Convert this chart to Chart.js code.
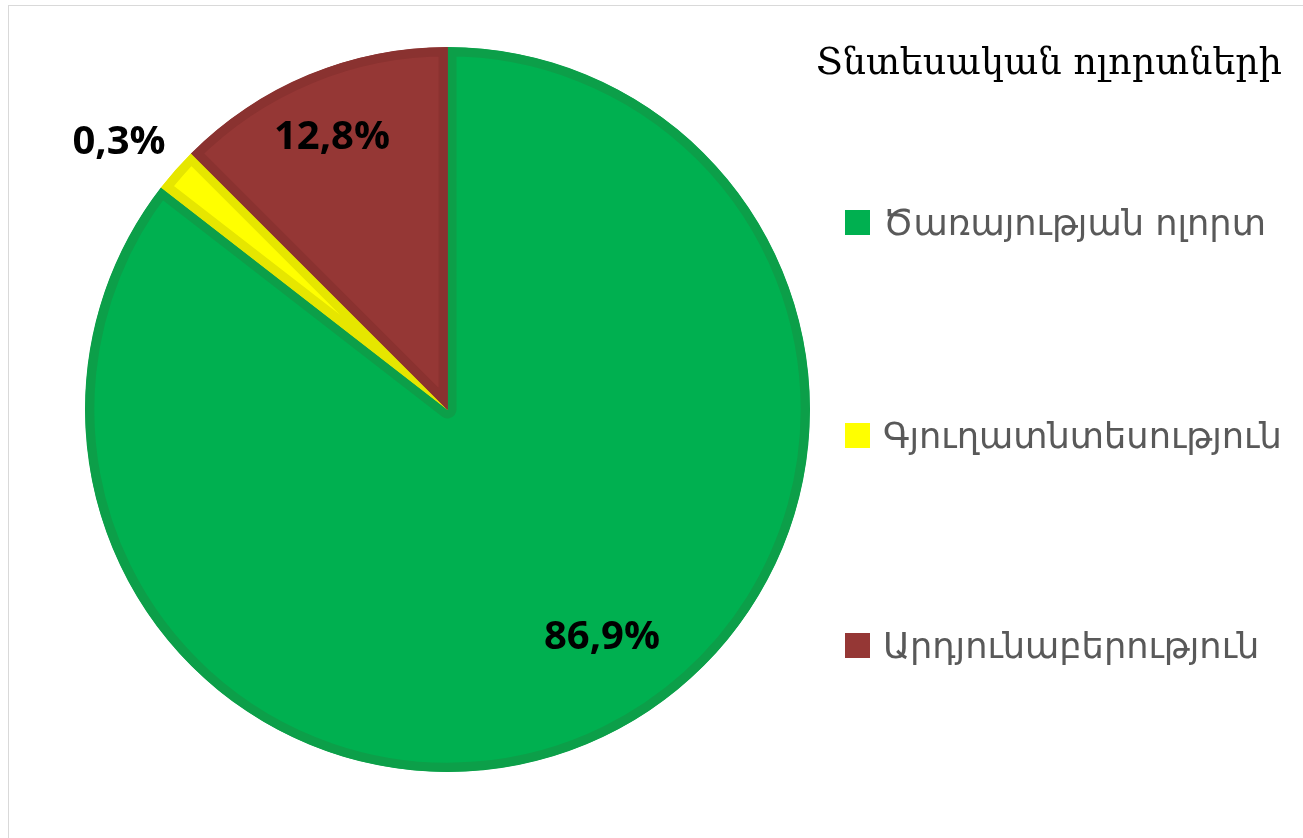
<!DOCTYPE html>
<html lang="hy">
<head>
    <meta charset="UTF-8">
    <title>Տնտեսական ոլորտների</title>
    <script src="https://cdn.jsdelivr.net/npm/chart.js@4.4.1/dist/chart.umd.min.js"></script>
    <style>
        body {
            margin: 0;
            background: #ffffff;
            width: 1303px;
            height: 838px;
            overflow: hidden;
            position: relative;
        }
        .frame {
            position: absolute;
            left: 8px;
            top: 5px;
            width: 1300px;
            height: 840px;
            border: 1px solid #d9d9d9;
        }
        #wrap {
            position: absolute;
            left: 0;
            top: 0;
            width: 1303px;
            height: 838px;
        }
        .title {
            position: absolute;
            left: 816px;
            top: 40px;
            font-family: 'DejaVu Serif', serif;
            font-size: 36.5px;
            color: #000;
            white-space: nowrap;
        }
        .legend-item {
            position: absolute;
            left: 845px;
            font-family: 'DejaVu Sans', sans-serif;
            font-size: 35.2px;
            color: #595959;
            white-space: nowrap;
            display: flex;
            align-items: center;
        }
        .legend-item span.box {
            display: inline-block;
            width: 25px;
            height: 25px;
            margin-right: 13px;
        }
    </style>
</head>
<body>
    <div class="frame"></div>
    <div id="wrap"><canvas id="pieChart"></canvas></div>
    <div class="title">Տնտեսական ոլորտների</div>
    <div id="legend"></div>

    <script>
        // categories and values (slice sizes, labels as printed)
        const sectors = ['Ծառայության ոլորտ', 'Գյուղատնտեսություն', 'Արդյունաբերություն'];
        const sliceShares = [85.5, 2.0, 12.5];
        const shareLabels = ['86,9%', '0,3%', '12,8%'];
        const fillColors = ['#00b050', '#ffff00', '#953735'];
        const edgeColors = ['#0c9f49', '#e6e600', '#8a3230'];

        // label centres as placed in the original
        const labelPos = [[602, 638], [119, 143], [332, 138]];

        const percentLabels = {
            id: 'percentLabels',
            afterDatasetsDraw(chart) {
                const ctx = chart.ctx;
                ctx.save();
                ctx.font = 'bold 40px "Open Sans", "DejaVu Sans", sans-serif';
                ctx.fillStyle = '#000';
                ctx.textAlign = 'center';
                ctx.textBaseline = 'middle';
                shareLabels.forEach((txt, i) => {
                    ctx.fillText(txt, labelPos[i][0], labelPos[i][1]);
                });
                ctx.restore();
            }
        };

        const ctx = document.getElementById('pieChart').getContext('2d');
        new Chart(ctx, {
            type: 'pie',
            data: {
                labels: sectors,
                datasets: [{
                    data: sliceShares,
                    backgroundColor: fillColors,
                    borderColor: edgeColors,
                    borderWidth: 9,
                    borderAlign: 'inner'
                }]
            },
            options: {
                responsive: true,
                maintainAspectRatio: false,
                animation: false,
                layout: {
                    padding: { left: 85, top: 47, right: 493, bottom: 66 }
                },
                plugins: {
                    legend: { display: false },
                    tooltip: { enabled: false }
                }
            },
            plugins: [percentLabels]
        });

        // legend on the right
        const legendTops = [202, 415, 625];
        const legend = document.getElementById('legend');
        sectors.forEach((name, i) => {
            const item = document.createElement('div');
            item.className = 'legend-item';
            item.style.top = legendTops[i] + 'px';
            item.innerHTML = `<span class="box" style="background:${fillColors[i]}"></span>${name}`;
            legend.appendChild(item);
        });
    </script>
</body>
</html>
